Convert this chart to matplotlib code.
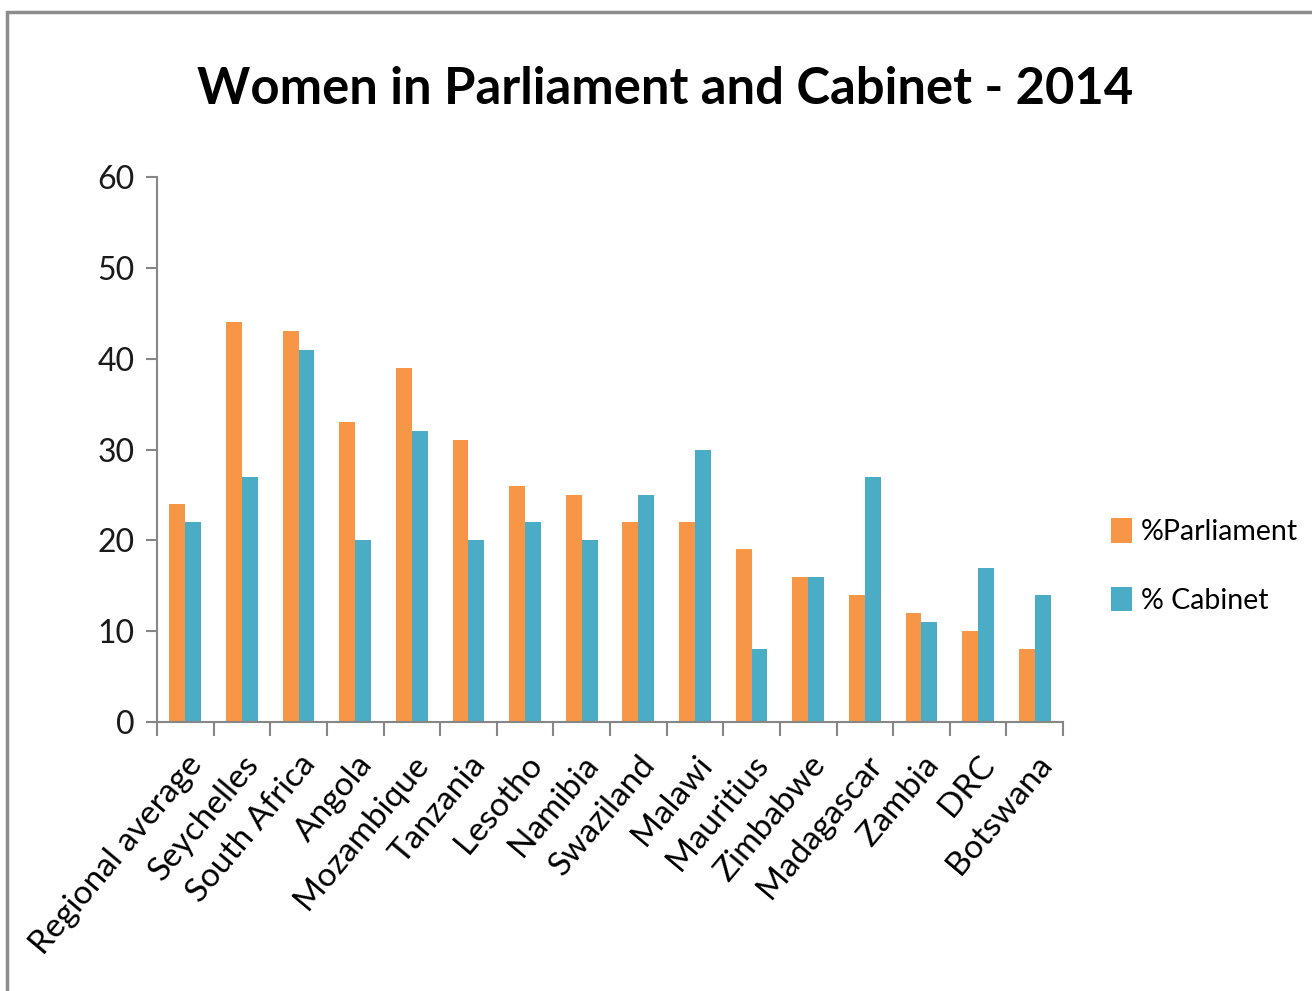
import numpy as np
import matplotlib.pyplot as plt
from matplotlib.patches import Rectangle

# ================= DATA =================
countries = ['Regional average', 'Seychelles', 'South Africa', 'Angola', 'Mozambique',
             'Tanzania', 'Lesotho', 'Namibia', 'Swaziland', 'Malawi', 'Mauritius',
             'Zimbabwe', 'Madagascar', 'Zambia', 'DRC', 'Botswana']
parliament = [24, 44, 43, 33, 39, 31, 26, 25, 22, 22, 19, 16, 14, 12, 10, 8]
cabinet = [22, 27, 41, 20, 32, 20, 22, 20, 25, 30, 8, 16, 27, 11, 17, 14]
yticks = [0, 10, 20, 30, 40, 50, 60]
# ========================================

plt.rcParams['font.family'] = ['Lato', 'DejaVu Sans']

fig = plt.figure(figsize=(13.12, 9.91), dpi=100)
# slide frame border
fig.patches.append(Rectangle((7 / 1312, -0.1), 1.2, 1 - 12 / 991 + 0.1,
                             transform=fig.transFigure, fill=False,
                             edgecolor='#8c8c8c', linewidth=2.5))

ax = fig.add_axes([157 / 1312, 1 - 722 / 991, 906 / 1312, 545 / 991])
x = np.arange(len(countries))
w = 0.28
ax.bar(x - w / 2, parliament, w, color='#F79646', label='%Parliament')
ax.bar(x + w / 2, cabinet, w, color='#4BACC6', label='% Cabinet')

ax.set_xlim(-0.5, len(countries) - 0.5)
ax.set_ylim(0, 60)
ax.set_yticks(yticks)
ax.set_xticks(x)
ax.set_xticklabels(countries, rotation=50, ha='right', rotation_mode='anchor')
ax.set_xticks(np.arange(len(countries) + 1) - 0.5, minor=True)

for s in ['top', 'right']:
    ax.spines[s].set_visible(False)
for s in ['left', 'bottom']:
    ax.spines[s].set_color('#868686')
    ax.spines[s].set_linewidth(1.5)

ax.tick_params(axis='y', labelsize=23, length=8, width=1.5, color='#868686', pad=8,
               labelcolor='#1a1a1a')
ax.tick_params(axis='x', which='major', labelsize=24, length=0, pad=20)
ax.tick_params(axis='x', which='minor', length=10, width=1.5, color='#868686')

fig.text(665 / 1312, 1 - 90 / 991, 'Women in Parliament and Cabinet - 2014',
         ha='center', va='center', fontsize=36.5, fontweight='bold')

fig.legend(loc='center left', bbox_to_anchor=(1085 / 1312, 1 - 566 / 991),
           frameon=False, fontsize=20.5, handlelength=0.75, handleheight=0.95,
           handletextpad=0.3, labelspacing=1.45)

fig.savefig('out.png', dpi=100)
